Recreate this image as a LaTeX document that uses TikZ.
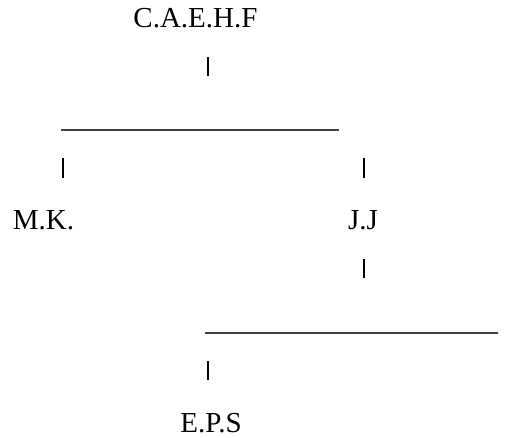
\documentclass[tikz,border=0pt]{standalone}
\usepackage{fontspec}
\setmainfont{Liberation Serif}
\usetikzlibrary{positioning}

\begin{document}
\begin{tikzpicture}[x=1pt, y=-1pt,
		label/.style={inner sep=0pt, anchor=base, font=\fontsize{29}{34}\selectfont},
		bar/.style={line width=2.6pt, black},
		rule/.style={line width=2pt, black!75}]
	\useasboundingbox (0,0) rectangle (518,437);
	
	% Names
	\node[label] (caehf) at (195.5,27) {C.A.E.H.F};
	\node[label] (mk) at (43.5,229) {M.K.};
	\node[label] (jj) at (363,229) {J.J};
	\node[label] (eps) at (211,432) {E.P.S};
	
	% Ticks and rules
	\coordinate (t1a) at (208,57);  \coordinate (t1b) at (208,76);
	\coordinate (r1a) at (61,129.5); \coordinate (r1b) at (339,129.5);
	\coordinate (t2a) at (63,158);  \coordinate (t2b) at (63,178);
	\coordinate (t3a) at (364,158); \coordinate (t3b) at (364,178);
	\coordinate (t4a) at (364,259); \coordinate (t4b) at (364,278);
	\coordinate (r2a) at (205,332.5); \coordinate (r2b) at (498,332.5);
	\coordinate (t5a) at (208,361); \coordinate (t5b) at (208,380);
	
	\draw[bar] (t1a) -- (t1b);
	\draw[rule] (r1a) -- (r1b);
	\draw[bar] (t2a) -- (t2b);
	\draw[bar] (t3a) -- (t3b);
	\draw[bar] (t4a) -- (t4b);
	\draw[rule] (r2a) -- (r2b);
	\draw[bar] (t5a) -- (t5b);
\end{tikzpicture}
\end{document}
